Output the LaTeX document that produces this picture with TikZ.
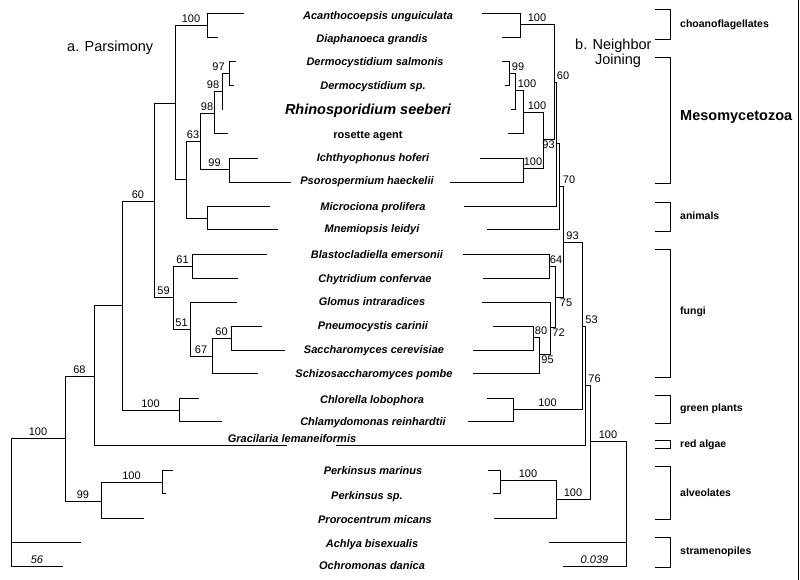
\documentclass[tikz,border=0pt]{standalone}
\usepackage{fontspec}
\setmainfont{Liberation Sans}

\tikzset{
    branch/.style={line width=0.9pt, draw=black},
    boot/.style={font=\fontsize{11}{13}\selectfont, above, inner sep=1.8pt},
    bootb/.style={font=\fontsize{11}{13}\selectfont, below, inner sep=1.8pt},
    barlabel/.style={font=\fontsize{11}{13}\selectfont\itshape, above, inner sep=1.8pt},
    taxon/.style={font=\fontsize{11}{13}\selectfont\bfseries\itshape, anchor=base, inner sep=0pt},
    group/.style={font=\fontsize{10.5}{12}\selectfont\bfseries, anchor=base west, inner sep=0pt},
    title/.style={font=\fontsize{14.5}{15}\selectfont, inner sep=0pt}
}

\begin{document}
\begin{tikzpicture}[x=1pt, y=-1pt]
    \useasboundingbox (0,0) rectangle (800,580);

    % Leaf tips of both trees (left tree, right tree, row)
    \foreach \n/\xl/\xr/\y in {1/244/482/13, 2/218/502/37, 3/236/502/61, 4/234/505/85,
        5/223/511/109, 6/228/508/133, 7/258/480/158, 8/291/450/182, 9/270/464/206,
        10/278/487/229, 11/267/463/254, 12/238/483/278, 13/237/482/302, 14/262/493/326,
        15/285/473/350, 16/258/473/373, 17/199/487/398, 18/222/468/421, 19/287/336/445,
        20/173/488/470, 21/166/493/493, 22/144/494/518, 23/81/549/542, 24/63/563/566} {
        \coordinate (L\n) at (\xl,\y);
        \coordinate (R\n) at (\xr,\y);
    }

    % Taxa
    \node[taxon] (t1) at (378,20) {Acanthocoepsis unguiculata};
    \node[taxon] (t2) at (372,43) {Diaphanoeca grandis};
    \node[taxon] (t3) at (375,66) {Dermocystidium salmonis};
    \node[taxon] (t4) at (373,90) {Dermocystidium sp.};
    \node[taxon, font=\fontsize{14.5}{16}\selectfont\bfseries\itshape] (t5) at (368,115) {Rhinosporidium seeberi};
    \node[taxon, font=\fontsize{11}{13}\selectfont\bfseries] (t6) at (368,139) {rosette agent};
    \node[taxon] (t7) at (373,162) {Ichthyophonus hoferi};
    \node[taxon] (t8) at (367,185) {Psorospermium haeckelii};
    \node[taxon] (t9) at (373,211) {Microciona prolifera};
    \node[taxon] (t10) at (372,233) {Mnemiopsis leidyi};
    \node[taxon] (t11) at (377,258) {Blastocladiella emersonii};
    \node[taxon] (t12) at (375,282) {Chytridium confervae};
    \node[taxon] (t13) at (372,305) {Glomus intraradices};
    \node[taxon] (t14) at (373,329) {Pneumocystis carinii};
    \node[taxon] (t15) at (374,353) {Saccharomyces cerevisiae};
    \node[taxon] (t16) at (374,377) {Schizosaccharomyces pombe};
    \node[taxon] (t17) at (372,403) {Chlorella lobophora};
    \node[taxon] (t18) at (373,425) {Chlamydomonas reinhardtii};
    \node[taxon] (t19) at (292,442) {Gracilaria lemaneiformis};
    \node[taxon] (t20) at (373,474) {Perkinsus marinus};
    \node[taxon] (t21) at (367,499) {Perkinsus sp.};
    \node[taxon] (t22) at (375,523) {Prorocentrum micans};
    \node[taxon] (t23) at (372,547) {Achlya bisexualis};
    \node[taxon] (t24) at (372,569) {Ochromonas danica};

    % Titles
    \node[title, anchor=base west] (parsimony) at (67,52) {a. Parsimony};
    \node[title, anchor=base west] (nj) at (575,50) {b. Neighbor};
    \node[title, anchor=base] (nj2) at (618,65) {Joining};

    % Internal nodes, parsimony tree
    \coordinate (Lchoano) at (207,25);
    \coordinate (LdermoA) at (229,73);
    \coordinate (LdermoB) at (222,91);
    \coordinate (LrhinoC) at (214,113);
    \coordinate (Lichthy) at (229,169);
    \coordinate (Lmeso) at (200,141);
    \coordinate (Lanim) at (207,218);
    \coordinate (LmesoAnim) at (186,179);
    \coordinate (Lopist) at (175,103);
    \coordinate (Lblasto) at (192,266);
    \coordinate (Lpneumo) at (231,338);
    \coordinate (Lschizo) at (212,356);
    \coordinate (Lglomus) at (190,329);
    \coordinate (Lfungi) at (173,297);
    \coordinate (Lcrown) at (154,201);
    \coordinate (Lgreen) at (179,410);
    \coordinate (Lplant) at (122,305);
    \coordinate (Lred) at (94,376);
    \coordinate (Lperk) at (162,482);
    \coordinate (Lalv) at (101,501);
    \coordinate (Lmain) at (65,438);
    \coordinate (Lroot) at (11,438);

    % Draw the parsimony tree
    \draw[branch] (Lchoano) |- (L1) (Lchoano) |- (L2);
    \draw[branch] (LdermoA) |- (L3) (LdermoA) |- (L4);
    \draw[branch] (LdermoB) |- (LdermoA) node[boot, pos=0.75, xshift=-7pt] {97} (LdermoB) |- (L5);
    \draw[branch] (LrhinoC) |- (LdermoB) node[boot, pos=0.75, xshift=-5pt] {98} (LrhinoC) |- (L6);
    \draw[branch] (Lichthy) |- (L7) (Lichthy) |- (L8);
    \draw[branch] (Lmeso) |- (LrhinoC) node[boot, pos=0.75] {98} (Lmeso) |- (Lichthy) node[boot, pos=0.75] {99};
    \draw[branch] (Lanim) |- (L9) (Lanim) |- (L10);
    \draw[branch] (LmesoAnim) |- (Lmeso) node[boot, pos=0.75] {63} (LmesoAnim) |- (Lanim);
    \draw[branch] (Lopist) |- (Lchoano) node[boot, pos=0.75] {100} (Lopist) |- (LmesoAnim);
    \draw[branch] (Lblasto) |- (L11) (Lblasto) |- (L12);
    \draw[branch] (Lpneumo) |- (L14) (Lpneumo) |- (L15);
    \draw[branch] (Lschizo) |- (Lpneumo) node[boot, pos=0.75] {60} (Lschizo) |- (L16);
    \draw[branch] (Lglomus) |- (L13) (Lglomus) |- (Lschizo) node[boot, pos=0.75] {67};
    \draw[branch] (Lfungi) |- (Lblasto) node[boot, pos=0.75] {61} (Lfungi) |- (Lglomus) node[boot, pos=0.75] {51};
    \draw[branch] (Lcrown) |- (Lopist) (Lcrown) |- (Lfungi) node[boot, pos=0.75] {59};
    \draw[branch] (Lgreen) |- (L17) (Lgreen) |- (L18);
    \draw[branch] (Lplant) |- (Lcrown) node[boot, pos=0.75] {60} (Lplant) |- (Lgreen) node[boot, pos=0.75] {100};
    \draw[branch] (Lred) |- (Lplant) (Lred) |- (L19);
    \draw[branch] (Lperk) |- (L20) (Lperk) |- (L21);
    \draw[branch] (Lalv) |- (Lperk) node[boot, pos=0.75] {100} (Lalv) |- (L22);
    \draw[branch] (Lmain) |- (Lred) node[boot, pos=0.75] {68} (Lmain) |- (Lalv) node[boot, pos=0.75] {99};
    \draw[branch] (Lroot) -- (Lmain) node[boot, midway] {100} (Lroot) |- (L23) (Lroot) |- (L24) node[barlabel, pos=0.75] {56};

    % Internal nodes, neighbor joining tree
    \coordinate (Rchoano) at (520,24);
    \coordinate (RdermoA) at (509,73);
    \coordinate (RdermoB) at (515,90);
    \coordinate (RrhinoC) at (523,112);
    \coordinate (Richthy) at (523,168);
    \coordinate (Rmeso) at (543,139);
    \coordinate (RA) at (554,82);
    \coordinate (RB) at (556,143);
    \coordinate (RC) at (559,186);
    \coordinate (Rblasto) at (549,266);
    \coordinate (Rpneumo) at (533,337);
    \coordinate (Rschizo) at (539,354);
    \coordinate (Rglomus) at (550,327);
    \coordinate (Rfungi) at (555,297);
    \coordinate (RD) at (563,242);
    \coordinate (Rgreen) at (513,409);
    \coordinate (RE) at (582,326);
    \coordinate (RF) at (585,385);
    \coordinate (Rperk) at (500,480);
    \coordinate (Ralv) at (556,499);
    \coordinate (RG) at (590,441);
    \coordinate (Rroot) at (626,441);

    % Draw the neighbor joining tree
    \draw[branch] (Rchoano) |- (R1) (Rchoano) |- (R2);
    \draw[branch] (RdermoA) |- (R3) (RdermoA) |- (R4);
    \draw[branch] (RdermoB) |- (RdermoA) node[boot, pos=0.75, xshift=6pt] {99} (RdermoB) |- (R5);
    \draw[branch] (RrhinoC) |- (RdermoB) node[boot, pos=0.75, xshift=8pt] {100} (RrhinoC) |- (R6);
    \draw[branch] (Richthy) |- (R7) (Richthy) |- (R8);
    \draw[branch] (Rmeso) |- (RrhinoC) node[boot, pos=0.75, xshift=4pt] {100} (Rmeso) |- (Richthy) node[boot, pos=0.75] {100};
    \draw[branch] (RA) |- (Rchoano) node[boot, pos=0.75] {100} (RA) |- (Rmeso) node[bootb, pos=0.75] {93};
    \draw[branch] (RB) |- (RA) node[boot, pos=0.75, xshift=8pt] {60} (RB) |- (R9);
    \draw[branch] (RC) |- (RB) (RC) |- (R10);
    \draw[branch] (Rblasto) |- (R11) (Rblasto) |- (R12);
    \draw[branch] (Rpneumo) |- (R14) (Rpneumo) |- (R15);
    \draw[branch] (Rschizo) |- (Rpneumo) node[boot, pos=0.75, xshift=5pt] {80} (Rschizo) |- (R16);
    \draw[branch] (Rglomus) |- (R13) (Rglomus) |- (Rschizo) node[bootb, pos=0.75, xshift=3pt] {95};
    \draw[branch] (Rfungi) |- (Rblasto) node[boot, pos=0.75, xshift=4pt] {64} (Rfungi) |- (Rglomus) node[bootb, pos=0.75, xshift=6pt] {72};
    \draw[branch] (RD) |- (RC) node[boot, pos=0.75, xshift=8pt] {70} (RD) |- (Rfungi) node[bootb, pos=0.75, xshift=7pt] {75};
    \draw[branch] (Rgreen) |- (R17) (Rgreen) |- (R18);
    \draw[branch] (RE) |- (RD) node[boot, pos=0.75] {93} (RE) |- (Rgreen) node[boot, pos=0.75] {100};
    \draw[branch] (RF) |- (RE) node[boot, pos=0.75, xshift=8pt] {53} (RF) |- (R19);
    \draw[branch] (Rperk) |- (R20) (Rperk) |- (R21);
    \draw[branch] (Ralv) |- (Rperk) node[boot, pos=0.75] {100} (Ralv) |- (R22);
    \draw[branch] (RG) |- (RF) node[boot, pos=0.75, xshift=7pt] {76} (RG) |- (Ralv) node[boot, pos=0.75] {100};
    \draw[branch] (Rroot) -- (RG) node[boot, midway] {100} (Rroot) |- (R23) (Rroot) |- (R24) node[barlabel, pos=0.75] {0.039};

    % Group brackets
    \foreach \top/\bot in {9/39, 57/183, 202/231, 249/377, 395/423, 440/448, 466/519, 537/567} {
        \draw[branch] (655,\top) -| (670,\bot) -- (655,\bot);
    }
    \node[group] (gchoano) at (680,28) {choanoflagellates};
    \node[group, font=\fontsize{14.5}{16}\selectfont\bfseries] (gmeso) at (680,121) {Mesomycetozoa};
    \node[group] (ganimals) at (680,219) {animals};
    \node[group] (gfungi) at (680,314) {fungi};
    \node[group] (gplants) at (680,411) {green plants};
    \node[group] (gred) at (680,447) {red algae};
    \node[group] (galv) at (680,496) {alveolates};
    \node[group] (gstram) at (680,554) {stramenopiles};

    % Right edge
    \draw[branch] (798,0) -- (798,580);

\end{tikzpicture}
\end{document}
